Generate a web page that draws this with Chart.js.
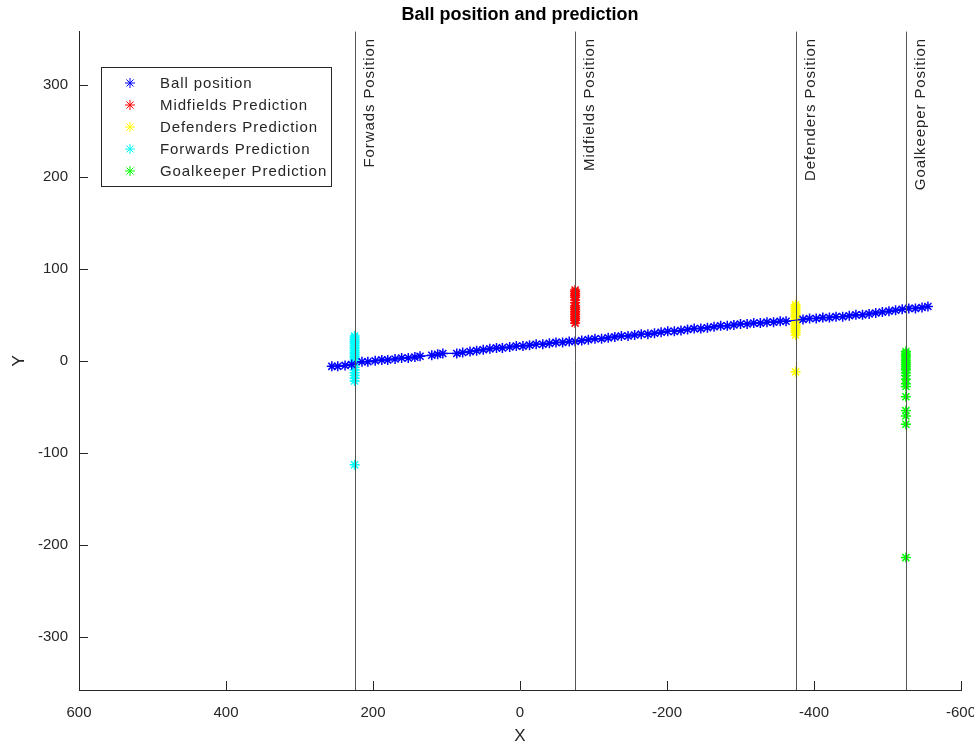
<!DOCTYPE html>
<html>
<head>
<meta charset="utf-8">
<title>Ball position and prediction</title>
<script src="https://cdn.jsdelivr.net/npm/chart.js@4.4.0/dist/chart.umd.min.js"></script>
<style>
  html, body { margin: 0; padding: 0; background: #fff; }
  #wrap { width: 974px; height: 747px; position: relative; }
</style>
</head>
<body>
<div id="wrap"><canvas id="chart" width="974" height="747"></canvas></div>
<script>
// ball track
const ballX = [256, 248, 238, 229, 215, 207, 197, 188, 180, 170, 161, 152, 143, 136, 120, 112, 105, 86, 78, 68,
  59, 50, 41, 32, 24, 14, 5, -4, -13, -22, -31, -40, -49, -58, -67, -75, -84, -93, -102, -111,
  -120, -129, -138, -147, -156, -165, -174, -183, -192, -201, -210, -219, -228, -237, -246, -255, -264, -273, -282, -291,
  -300, -309, -318, -327, -336, -345, -354, -362, -385, -394, -403, -412, -421, -430, -439, -448, -457, -466, -475, -484,
  -493, -502, -511, -520, -529, -538, -547, -555];
const ballY = [-6, -6, -5, -4, -1, -1, 0, 1, 1, 2, 3, 3, 4, 5, 6, 7, 8, 8, 9, 10,
  11, 12, 13, 14, 14, 15, 16, 16, 17, 18, 18, 19, 20, 20, 21, 21, 22, 23, 24, 24,
  25, 26, 27, 27, 28, 29, 29, 30, 31, 32, 32, 33, 34, 35, 35, 36, 37, 38, 38, 39,
  40, 40, 41, 41, 42, 42, 43, 43, 45, 46, 46, 47, 47, 48, 48, 49, 50, 50, 51, 52,
  53, 54, 55, 56, 57, 57, 58, 59];

// predictions (each one sits on its player line)
const midX = -75;
const midY = [77, 75, 73, 71, 69, 66, 63, 60, 58, 56, 54, 52, 50, 48, 46, 44, 41];
const defX = -375;
const defY = [61, 59, 57, 55, 53, 51, 49, 47, 45, 43, 41, 39, 37, 35, 33, 31, 28, -12];
const fwdX = 225;
const fwdY = [27, 25, 23, 21, 19, 17, 15, 13, 11, 9, 7, 5, 3, 1, -1, -4, -7, -10, -13, -16, -19, -22, -113];
const gkX = -525;
const gkY = [10, 8, 6, 4, 2, 0, -2, -4, -6, -8, -10, -13, -16, -20, -25, -28, -39, -54, -60, -69, -214];

const lineX = [225, -75, -375, -525];
const lineLabels = ['Forwads Position', 'Midfields Position', 'Defenders Position', 'Goalkeeper Position'];

const xTicks = [600, 400, 200, 0, -200, -400, -600];
const yTicks = [-300, -200, -100, 0, 100, 200, 300];

const FONT = "'Liberation Sans', Arial, Helvetica, sans-serif";
const INK = '#262626';

const pts = (xs, ys) => ys.map((y, i) => ({ x: Array.isArray(xs) ? xs[i] : xs, y }));

function series(label, color, data, line) {
  return {
    label,
    data,
    showLine: !!line,
    borderColor: color,
    backgroundColor: color,
    borderWidth: 1.2,
    pointStyle: 'star',
    pointRadius: 5,
    pointBorderWidth: 1.5,
    pointBorderColor: color,
    pointHoverRadius: 5
  };
}

const datasets = [
  series('Ball position', '#0000ff', pts(ballX, ballY), true),
  series('Midfields Prediction', '#ff0000', pts(midX, midY)),
  series('Defenders Prediction', '#ffff00', pts(defX, defY)),
  series('Forwards Prediction', '#00ffff', pts(fwdX, fwdY)),
  series('Goalkeeper Prediction', '#00ff00', pts(gkX, gkY))
];

// small inward tick marks, matlab style
const tickMarks = {
  id: 'tickMarks',
  afterDraw(chart) {
    const { ctx, chartArea: a, scales: { x, y } } = chart;
    ctx.save();
    ctx.strokeStyle = INK;
    ctx.lineWidth = 1;
    ctx.beginPath();
    xTicks.forEach(v => {
      const px = Math.round(x.getPixelForValue(v)) + 0.5;
      ctx.moveTo(px, a.bottom);
      ctx.lineTo(px, a.bottom - 9);
    });
    yTicks.forEach(v => {
      const py = Math.round(y.getPixelForValue(v)) + 0.5;
      ctx.moveTo(a.left, py);
      ctx.lineTo(a.left + 9, py);
    });
    ctx.stroke();
    ctx.restore();
  }
};

// player position lines with rotated labels
const playerLines = {
  id: 'playerLines',
  afterDatasetsDraw(chart) {
    const { ctx, chartArea: a, scales: { x } } = chart;
    ctx.save();
    ctx.strokeStyle = '#555';
    ctx.lineWidth = 1;
    ctx.fillStyle = INK;
    ctx.font = '15px ' + FONT;
    ctx.letterSpacing = '0.9px';
    lineX.forEach((v, i) => {
      const px = Math.round(x.getPixelForValue(v)) + 0.5;
      ctx.beginPath();
      ctx.moveTo(px, a.top);
      ctx.lineTo(px, a.bottom);
      ctx.stroke();
      ctx.save();
      ctx.translate(px + 7, 38);
      ctx.rotate(-Math.PI / 2);
      ctx.textAlign = 'right';
      ctx.textBaseline = 'top';
      ctx.fillText(lineLabels[i], 0, 0);
      ctx.restore();
    });
    ctx.restore();
  }
};

// boxed legend in the upper left
const boxLegend = {
  id: 'boxLegend',
  afterDraw(chart) {
    const { ctx } = chart;
    const left = 101, top = 67, w = 230, h = 119, rowH = 22;
    ctx.save();
    ctx.fillStyle = '#fff';
    ctx.fillRect(left, top, w, h);
    ctx.strokeStyle = INK;
    ctx.lineWidth = 1;
    ctx.strokeRect(left + 0.5, top + 0.5, w, h);
    ctx.font = '15px ' + FONT;
    ctx.letterSpacing = '0.9px';
    ctx.textBaseline = 'middle';
    chart.data.datasets.forEach((ds, i) => {
      const cy = top + 16 + i * rowH;
      ctx.strokeStyle = ds.borderColor;
      ctx.fillStyle = ds.borderColor;
      Chart.helpers.drawPoint(ctx, { pointStyle: 'star', radius: 5, borderWidth: 1.5 }, 130, cy);
      ctx.fillStyle = INK;
      ctx.fillText(ds.label, 160, cy + 1);
    });
    ctx.restore();
  }
};

new Chart(document.getElementById('chart'), {
  type: 'scatter',
  data: { datasets },
  options: {
    responsive: false,
    animation: false,
    events: [],
    layout: { padding: { top: 0, right: 13, left: 0, bottom: 0 } },
    plugins: {
      legend: { display: false },
      tooltip: { enabled: false },
      title: {
        display: true,
        fullSize: false,
        text: 'Ball position and prediction',
        color: '#000',
        font: { family: FONT, size: 18, weight: 'bold' },
        padding: { top: 4, bottom: 6 }
      }
    },
    scales: {
      x: {
        type: 'linear',
        reverse: true,
        min: -600,
        max: 600,
        afterBuildTicks: s => { s.ticks = xTicks.map(v => ({ value: v })); },
        afterFit: s => { s.height = 57; s.paddingLeft = 0; s.paddingRight = 0; },
        grid: { display: false, drawTicks: false },
        border: { display: true, color: INK, width: 1 },
        ticks: { color: INK, padding: 14, font: { family: FONT, size: 15 }, maxRotation: 0 },
        title: { display: true, text: 'X', color: INK, font: { family: FONT, size: 17 }, padding: { top: 0, bottom: 0 } }
      },
      y: {
        type: 'linear',
        min: -358,
        max: 358,
        afterBuildTicks: s => { s.ticks = yTicks.map(v => ({ value: v })); },
        afterFit: s => { s.width = 79; s.paddingTop = 0; s.paddingBottom = 0; },
        grid: { display: false, drawTicks: false },
        border: { display: true, color: INK, width: 1 },
        ticks: { color: INK, padding: 11, font: { family: FONT, size: 15 } },
        title: { display: true, text: 'Y', color: INK, font: { family: FONT, size: 17 }, padding: { top: 9, bottom: 0 } }
      }
    }
  },
  plugins: [tickMarks, playerLines, boxLegend]
});
</script>
</body>
</html>
